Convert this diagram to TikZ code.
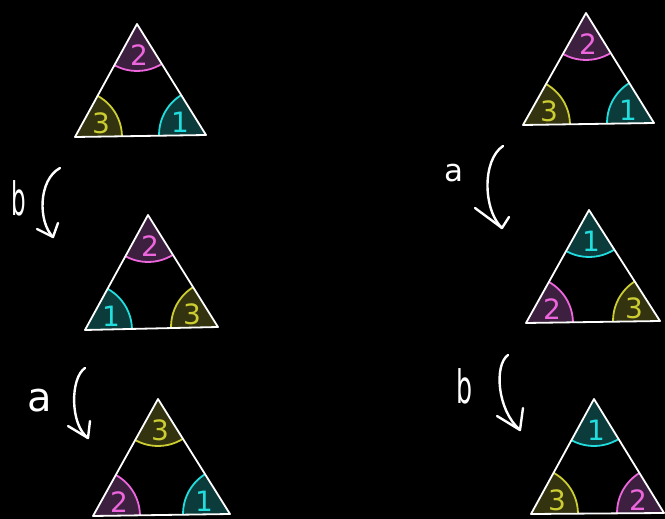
\documentclass[tikz,border=0pt]{standalone}
\usepackage{fontspec}
\setmainfont{DejaVu Sans}
\usepackage{graphicx}
\usetikzlibrary{calc}
\definecolor{magF}{HTML}{3D2040}
\definecolor{magL}{HTML}{EE66DD}
\definecolor{cyaF}{HTML}{0B3B3B}
\definecolor{cyaL}{HTML}{22DDDD}
\definecolor{yelF}{HTML}{33330F}
\definecolor{yelL}{HTML}{CCCC33}
\tikzset{
  edge/.style={draw=white, line width=1.8pt, line join=round},
  num/.style={font=\fontsize{28}{28}\selectfont, inner sep=0pt},
  lbl/.style={text=white, inner sep=0pt},
  stroke/.style={draw=white, line width=2.4pt, line cap=round, line join=round},
  sectline/.style={line width=1.8pt},
}
% #1 triangle prefix, #2 vertex (A,L,R), #3 colour stem, #4 number, #5 label offset
\newcommand{\trisector}[5]{%
  \begin{scope}
    \clip (#1A) -- (#1L) -- (#1R) -- cycle;
    \fill[#3F] (#1#2) circle[radius=47];
    \draw[#3L, sectline] (#1#2) circle[radius=47];
  \end{scope}
  \node[num, text=#3L] (#1n#2) at ($(#1#2)+#5$) {#4};
}
\newcommand{\triedge}[1]{\draw[edge] (#1A) -- (#1L) -- (#1R) -- cycle;}
\begin{document}
\begin{tikzpicture}[x=1pt,y=-1pt]
\fill[black] (0,0) rectangle (665,519);
\useasboundingbox (0,0) rectangle (665,519);
% triangle vertices
\coordinate (aA) at (137,24);  \coordinate (aL) at (75,137);  \coordinate (aR) at (206,135);
\coordinate (bA) at (148,215); \coordinate (bL) at (85,330);  \coordinate (bR) at (218,327);
\coordinate (cA) at (158,399); \coordinate (cL) at (93,516);  \coordinate (cR) at (230,514);
\coordinate (dA) at (586,13);  \coordinate (dL) at (523,125); \coordinate (dR) at (654,123);
\coordinate (eA) at (589,210); \coordinate (eL) at (526,323); \coordinate (eR) at (660,321);
\coordinate (fA) at (594,399); \coordinate (fL) at (531,514); \coordinate (fR) at (664,513);
% sectors
\trisector{a}{A}{mag}{2}{(2,31)}
\trisector{a}{L}{yel}{3}{(26,-14)}
\trisector{a}{R}{cya}{1}{(-26,-13)}
\trisector{b}{A}{mag}{2}{(2,31)}
\trisector{b}{L}{cya}{1}{(26,-14)}
\trisector{b}{R}{yel}{3}{(-26,-13)}
\trisector{c}{A}{yel}{3}{(2,31)}
\trisector{c}{L}{mag}{2}{(26,-14)}
\trisector{c}{R}{cya}{1}{(-26,-13)}
\trisector{d}{A}{mag}{2}{(2,31)}
\trisector{d}{L}{yel}{3}{(26,-14)}
\trisector{d}{R}{cya}{1}{(-26,-13)}
\trisector{e}{A}{cya}{1}{(2,31)}
\trisector{e}{L}{mag}{2}{(26,-14)}
\trisector{e}{R}{yel}{3}{(-26,-13)}
\trisector{f}{A}{cya}{1}{(2,31)}
\trisector{f}{L}{yel}{3}{(26,-14)}
\trisector{f}{R}{mag}{2}{(-26,-13)}
\triedge{a}\triedge{b}\triedge{c}\triedge{d}\triedge{e}\triedge{f}
% arrows
\coordinate (s1) at (60,168);  \coordinate (t1) at (53,237);  \coordinate (p1) at (37,229);  \coordinate (q1) at (58,223);
\coordinate (s2) at (85,368);  \coordinate (t2) at (88,438);  \coordinate (p2) at (68,426);  \coordinate (q2) at (90,421);
\coordinate (s3) at (503,146); \coordinate (t3) at (502,228); \coordinate (p3) at (475,208); \coordinate (q3) at (509,217);
\coordinate (s4) at (508,355); \coordinate (t4) at (520,430); \coordinate (p4) at (497,416); \coordinate (q4) at (523,408);
\draw[stroke] (s1) .. controls (38,180) and (38,222) .. (t1);
\draw[stroke] (p1) -- (t1) -- (q1);
\draw[stroke] (s2) .. controls (70,378) and (70,425) .. (t2);
\draw[stroke] (p2) -- (t2) -- (q2);
\draw[stroke] (s3) .. controls (482,160) and (483,210) .. (t3);
\draw[stroke] (p3) -- (t3) -- (q3);
\draw[stroke] (s4) .. controls (494,365) and (497,410) .. (t4);
\draw[stroke] (p4) -- (t4) -- (q4);
% labels
\node[lbl, font=\fontsize{46}{46}\selectfont] (lb1) at (19,198) {\scalebox{0.5}[1]{b}};
\node[lbl, font=\fontsize{40}{40}\selectfont] (la1) at (40,401) {a};
\node[lbl, font=\fontsize{31}{31}\selectfont] (la2) at (454,173) {a};
\node[lbl, font=\fontsize{46}{46}\selectfont] (lb2) at (465,386) {\scalebox{0.55}[1]{b}};
\end{tikzpicture}
\end{document}
